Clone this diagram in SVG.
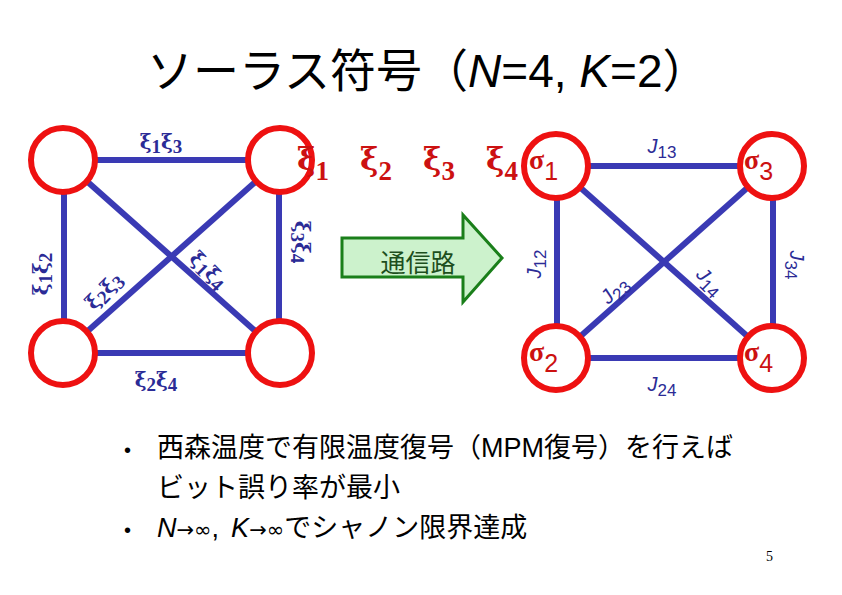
<svg xmlns="http://www.w3.org/2000/svg" width="842" height="595" viewBox="0 0 842 595">
<style>
.edge{stroke:#3a3ab4;stroke-width:6;fill:none}
.node{fill:#fff;stroke:#ee1111;stroke-width:6}
.xi{font-family:"DejaVu Serif",serif;fill:#2b2b96;font-size:20px;font-weight:bold}
.xs{font-family:"Liberation Serif",serif;font-size:19px}
.rxi{font-family:"DejaVu Serif",serif;fill:#cc1111;font-size:31px;font-weight:bold}
.rs{font-family:"Liberation Serif",serif;font-size:27px}
.jl{font-family:"Liberation Sans",Arial,sans-serif;fill:#2b2b96;font-size:20px}
.js{font-size:17px}
.sig{font-family:"Liberation Serif","DejaVu Serif",serif;font-weight:bold;fill:#cc1111;font-size:28px}
.sd{font-family:"Liberation Sans",Arial,sans-serif;font-weight:normal;font-size:25px}
.jp{font-family:"Liberation Sans","Noto Sans CJK JP",sans-serif;fill:#000}
.ar{font-family:"DejaVu Sans",sans-serif;font-size:21px}
</style>
<rect width="842" height="595" fill="#fff"/>
<text class="jp" x="147" y="87" font-size="46">ソーラス符号（<tspan font-style="italic">N</tspan>=4, <tspan font-style="italic">K</tspan>=2）</text>

<g id="connectors-left">
<line class="edge" x1="63" y1="160" x2="280" y2="160"/>
<line class="edge" x1="63" y1="353" x2="280" y2="353"/>
<line class="edge" x1="64" y1="160" x2="64" y2="353"/>
<line class="edge" x1="279" y1="160" x2="279" y2="353"/>
<line class="edge" x1="63" y1="160" x2="280" y2="353"/>
<line class="edge" x1="280" y1="160" x2="63" y2="353"/>
</g>
<g id="edge-labels-left">
<text class="xi" x="161" y="149" text-anchor="middle">ξ<tspan class="xs" dy="4">1</tspan><tspan dy="-4">ξ</tspan><tspan class="xs" dy="4">3</tspan></text>
<text class="xi" x="156" y="387" text-anchor="middle">ξ<tspan class="xs" dy="4">2</tspan><tspan dy="-4">ξ</tspan><tspan class="xs" dy="4">4</tspan></text>
<g transform="translate(43,274) rotate(-90)"><text class="xi" x="0" y="5" text-anchor="middle">ξ<tspan class="xs" dy="4">1</tspan><tspan dy="-4">ξ</tspan><tspan class="xs" dy="4">2</tspan></text></g>
<g transform="translate(300,242) rotate(90)"><text class="xi" x="0" y="5" text-anchor="middle">ξ<tspan class="xs" dy="4">3</tspan><tspan dy="-4">ξ</tspan><tspan class="xs" dy="4">4</tspan></text></g>
<g transform="translate(105,292) rotate(-45)"><text class="xi" x="0" y="5" text-anchor="middle">ξ<tspan class="xs" dy="4">2</tspan><tspan dy="-4">ξ</tspan><tspan class="xs" dy="4">3</tspan></text></g>
<g transform="translate(207,271) rotate(45)"><text class="xi" x="0" y="5" text-anchor="middle">ξ<tspan class="xs" dy="4">1</tspan><tspan dy="-4">ξ</tspan><tspan class="xs" dy="4">4</tspan></text></g>
</g>
<g id="n-left-1"><circle class="node" cx="63" cy="160" r="32"/></g>
<g id="n-left-2"><circle class="node" cx="280" cy="160" r="32"/></g>
<g id="n-left-3"><circle class="node" cx="63" cy="353" r="32"/></g>
<g id="n-left-4"><circle class="node" cx="280" cy="353" r="32"/></g>

<g id="xi-sequence">
<text class="rxi" x="297" y="170">ξ<tspan class="rs" dy="10">1</tspan></text>
<text class="rxi" x="360" y="170">ξ<tspan class="rs" dy="10">2</tspan></text>
<text class="rxi" x="423" y="170">ξ<tspan class="rs" dy="10">3</tspan></text>
<text class="rxi" x="486" y="170">ξ<tspan class="rs" dy="10">4</tspan></text>
</g>

<g id="channel-arrow">
<polygon points="342,238 463,238 463,215 502,258 463,302 463,277 342,277" fill="#ccf2cc" stroke="#1a7f1a" stroke-width="3" stroke-linejoin="miter"/>
<text x="418" y="272" text-anchor="middle" font-family="'Noto Sans CJK JP',sans-serif" font-size="25" fill="#1d4f1d">通信路</text>
</g>

<g id="connectors-right">
<line class="edge" x1="556" y1="166" x2="772" y2="166"/>
<line class="edge" x1="556" y1="358" x2="772" y2="358"/>
<line class="edge" x1="557" y1="166" x2="557" y2="358"/>
<line class="edge" x1="773" y1="166" x2="773" y2="358"/>
<line class="edge" x1="556" y1="166" x2="772" y2="358"/>
<line class="edge" x1="772" y1="166" x2="556" y2="358"/>
</g>
<g id="edge-labels-right">
<text class="jl" x="662" y="153" text-anchor="middle"><tspan font-style="italic">J</tspan><tspan class="js" dy="5">13</tspan></text>
<text class="jl" x="662" y="391" text-anchor="middle"><tspan font-style="italic">J</tspan><tspan class="js" dy="5">24</tspan></text>
<g transform="translate(537,264) rotate(-90)"><text class="jl" x="0" y="4" text-anchor="middle"><tspan font-style="italic">J</tspan><tspan class="js" dy="5">12</tspan></text></g>
<g transform="translate(794,265) rotate(90)"><text class="jl" x="0" y="4" text-anchor="middle"><tspan font-style="italic">J</tspan><tspan class="js" dy="5">34</tspan></text></g>
<g transform="translate(616,292) rotate(-45)"><text class="jl" x="0" y="4" text-anchor="middle"><tspan font-style="italic">J</tspan><tspan class="js" dy="5">23</tspan></text></g>
<g transform="translate(708,283) rotate(45)"><text class="jl" x="0" y="4" text-anchor="middle"><tspan font-style="italic">J</tspan><tspan class="js" dy="5">14</tspan></text></g>
</g>
<g id="sigma1"><circle class="node" cx="556" cy="166" r="32"/><text class="sig" x="529" y="169">σ<tspan class="sd" dy="11">1</tspan></text></g>
<g id="sigma3"><circle class="node" cx="772" cy="166" r="32"/><text class="sig" x="744" y="169">σ<tspan class="sd" dy="11">3</tspan></text></g>
<g id="sigma2"><circle class="node" cx="556" cy="358" r="32"/><text class="sig" x="529" y="361">σ<tspan class="sd" dy="11">2</tspan></text></g>
<g id="sigma4"><circle class="node" cx="772" cy="358" r="32"/><text class="sig" x="744" y="361">σ<tspan class="sd" dy="11">4</tspan></text></g>

<g id="bullets" class="jp" font-size="27">
<text x="124" y="457" font-size="20">•</text>
<text x="157" y="457">西森温度で有限温度復号（MPM復号）を行えば</text>
<text x="157" y="497">ビット誤り率が最小</text>
<text x="124" y="537" font-size="20">•</text>
<text x="157" y="537"><tspan font-style="italic">N</tspan><tspan class="ar">→∞</tspan>,<tspan dx="12" font-style="italic">K</tspan><tspan class="ar">→∞</tspan>でシャノン限界達成</text>
</g>
<text x="766" y="561" font-family="'Liberation Serif',serif" font-size="14" fill="#000">5</text>
</svg>
